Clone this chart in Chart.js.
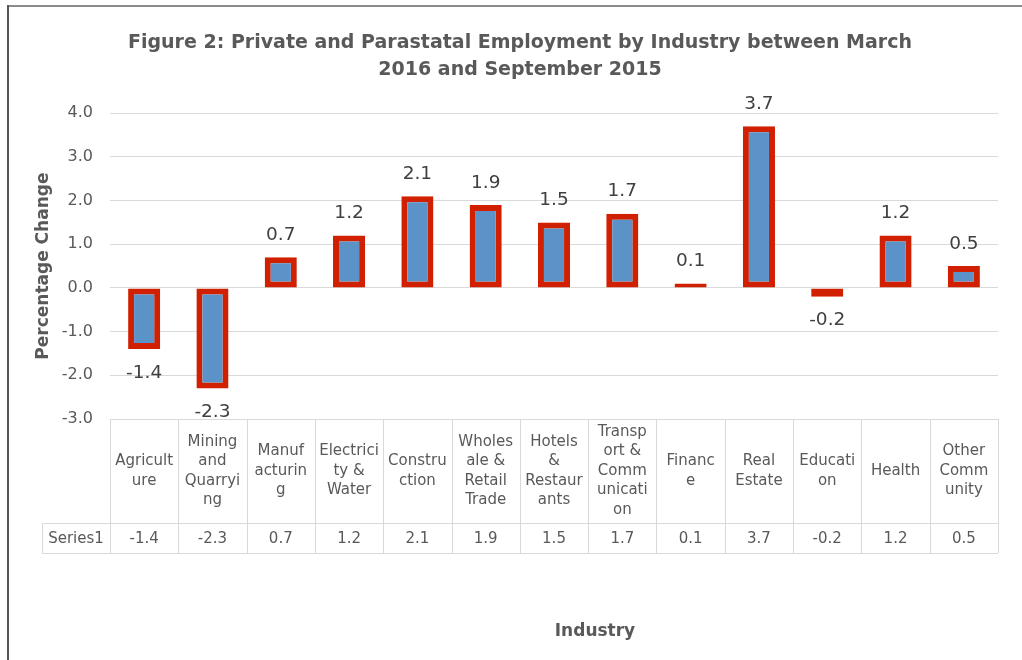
<!DOCTYPE html>
<html>
<head>
<meta charset="utf-8">
<style>
  html, body { margin: 0; padding: 0; background: #fff; }
  canvas { display: block; }
</style>
<script src="https://cdn.jsdelivr.net/npm/chart.js@4/dist/chart.umd.min.js"></script>
</head>
<body>
<canvas id="chart" width="1022" height="660"></canvas>
<script>
// data
const categories = [
    ["Agricult", "ure"], ["Mining", "and", "Quarryi", "ng"], ["Manuf", "acturin", "g"],
    ["Electrici", "ty &", "Water"], ["Constru", "ction"], ["Wholes", "ale &", "Retail", "Trade"],
    ["Hotels", "&", "Restaur", "ants"], ["Transp", "ort &", "Comm", "unicati", "on"],
    ["Financ", "e"], ["Real", "Estate"], ["Educati", "on"], ["Health"], ["Other", "Comm", "unity"]
];
const seriesName = "Series1";
const values = [-1.4, -2.3, 0.7, 1.2, 2.1, 1.9, 1.5, 1.7, 0.1, 3.7, -0.2, 1.2, 0.5];
const yMin = -3, yMax = 4, yStep = 1;
const titleLines = ["Figure 2: Private and Parastatal Employment by Industry between March", "2016 and September 2015"];
const yTitle = "Percentage Change";
const xTitle = "Industry";

const grey = "#595959";
const lineGrey = "#d9d9d9";
const font = "'DejaVu Sans', sans-serif";

// white background and the frame lines at top / left
const framePlugin = {
    id: "frame",
    beforeDraw(chart) {
        const ctx = chart.ctx;
        ctx.save();
        ctx.fillStyle = "#fff";
        ctx.fillRect(0, 0, chart.width, chart.height);
        ctx.fillStyle = "#8c8c8c";
        ctx.fillRect(7, 5, chart.width - 7, 2);
        ctx.fillStyle = "#555";
        ctx.fillRect(7, 5, 2, chart.height - 5);
        ctx.restore();
    }
};

// value labels above / below each bar
const barLabels = {
    id: "barLabels",
    afterDatasetsDraw(chart) {
        const ctx = chart.ctx;
        const meta = chart.getDatasetMeta(0);
        ctx.save();
        ctx.font = "18.5px " + font;
        ctx.fillStyle = "#404040";
        ctx.textAlign = "center";
        ctx.textBaseline = "middle";
        meta.data.forEach((bar, i) => {
            const v = values[i];
            const y = v >= 0 ? bar.y - 22 : bar.y + 24;
            ctx.fillText(v.toFixed(1), bar.x, y);
        });
        ctx.restore();
    }
};

// data table under the plot, plus the x axis title
const dataTable = {
    id: "dataTable",
    afterDraw(chart) {
        const ctx = chart.ctx;
        const xs = chart.scales.x;
        const area = chart.chartArea;
        const colW = (area.right - area.left) / categories.length;
        const top = area.bottom;
        const rowSplit = top + 104;
        const bottom = rowSplit + 30;
        const headLeft = 42;

        ctx.save();
        ctx.strokeStyle = lineGrey;
        ctx.lineWidth = 1;
        ctx.beginPath();
        ctx.moveTo(area.left, top + 0.5); ctx.lineTo(area.right, top + 0.5);
        ctx.moveTo(headLeft, rowSplit + 0.5); ctx.lineTo(area.right, rowSplit + 0.5);
        ctx.moveTo(headLeft, bottom + 0.5); ctx.lineTo(area.right, bottom + 0.5);
        ctx.moveTo(headLeft + 0.5, rowSplit); ctx.lineTo(headLeft + 0.5, bottom);
        for (let i = 0; i <= categories.length; i++) {
            const x = Math.round(area.left + i * colW) + 0.5;
            ctx.moveTo(x, top); ctx.lineTo(x, bottom);
        }
        ctx.stroke();

        ctx.font = "15px " + font;
        ctx.fillStyle = grey;
        ctx.textAlign = "center";
        ctx.textBaseline = "middle";
        const lh = 19.5;
        const mid = (top + rowSplit) / 2;
        categories.forEach((lines, i) => {
            const cx = xs.getPixelForValue(i);
            const y0 = mid - (lines.length - 1) * lh / 2;
            lines.forEach((t, j) => ctx.fillText(t, cx, y0 + j * lh));
            ctx.fillText(values[i].toFixed(1), cx, (rowSplit + bottom) / 2 + 1);
        });
        ctx.fillText(seriesName, (headLeft + area.left) / 2, (rowSplit + bottom) / 2 + 1);

        ctx.font = "bold 17px " + font;
        ctx.fillText(xTitle, 595, 632);
        ctx.restore();
    }
};

new Chart(document.getElementById("chart"), {
    type: "bar",
    data: {
        labels: categories,
        datasets: [{
            label: seriesName,
            data: values,
            backgroundColor: "#5b93c8",
            borderColor: "#d02000",
            borderWidth: 6,
            borderSkipped: false,
            categoryPercentage: 1,
            barPercentage: 0.47
        }]
    },
    options: {
        responsive: false,
        devicePixelRatio: 1,
        animation: false,
        layout: { padding: { left: 42, right: 24, top: 0, bottom: 0 } },
        plugins: {
            legend: { display: false },
            tooltip: { enabled: false },
            title: {
                display: true,
                text: titleLines,
                color: grey,
                font: { family: font, size: 19, weight: "bold", lineHeight: 1.4 },
                padding: { top: 30, bottom: 30 }
            }
        },
        scales: {
            x: {
                grid: { display: false },
                border: { display: false },
                ticks: { display: false },
                afterFit(scale) { scale.height = 241; }
            },
            y: {
                min: yMin,
                max: yMax,
                grid: { color: lineGrey, drawTicks: false },
                border: { display: false },
                ticks: {
                    stepSize: yStep,
                    padding: 17,
                    color: grey,
                    font: { family: font, size: 16 },
                    callback: (v) => v.toFixed(1)
                },
                title: {
                    display: true,
                    text: yTitle,
                    color: grey,
                    font: { family: font, size: 17, weight: "bold" },
                    padding: { top: -9, bottom: 0 }
                },
                afterFit(scale) { scale.width = 68; }
            }
        }
    },
    plugins: [framePlugin, barLabels, dataTable]
});
</script>
</body>
</html>
